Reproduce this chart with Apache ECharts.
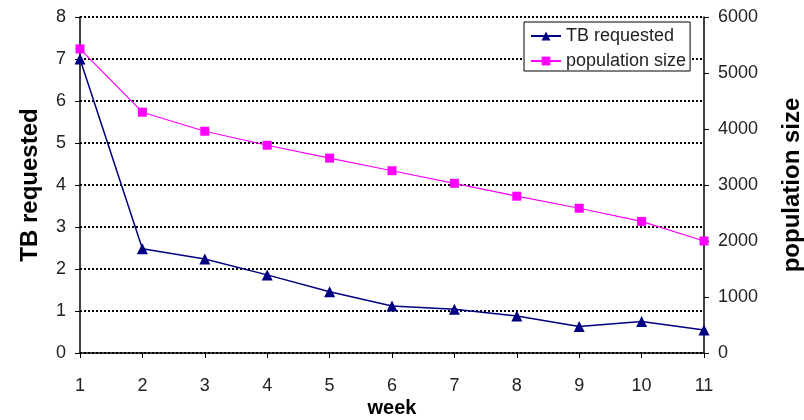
<!DOCTYPE html>
<html><head><meta charset="utf-8">
<script src="https://cdn.jsdelivr.net/npm/echarts@6/dist/echarts.min.js"></script>
<style>html,body{margin:0;padding:0;background:#fff}#c{width:804px;height:420px}</style>
</head><body><div id="c"></div>
<script>
const weeks = ['1','2','3','4','5','6','7','8','9','10','11'];
const tbRequested = [7.0, 2.48, 2.24, 1.86, 1.46, 1.12, 1.04, 0.88, 0.63, 0.75, 0.55];
const populationSize = [5430, 4300, 3960, 3710, 3480, 3255, 3030, 2800, 2585, 2350, 2000];

const chart = echarts.init(document.getElementById('c'));
const font = 'Liberation Sans, Arial, sans-serif';
chart.setOption({
  animation: false,
  backgroundColor: '#fff',
  textStyle: { fontFamily: font },
  grid: { left: 80, right: 100, top: 17, bottom: 67, containLabel: false, outerBoundsMode: 'none' },
  legend: {
    orient: 'vertical', left: 524, top: 22, itemGap: 5,
    padding: [4, 4, 0, 6],
    backgroundColor: '#fff', borderColor: '#000', borderWidth: 1,
    itemWidth: 30, itemHeight: 11,
    textStyle: { fontFamily: font, fontSize: 18, lineHeight: 20, color: '#222' },
    data: ['TB requested', 'population size']
  },
  xAxis: {
    type: 'category', data: weeks, boundaryGap: false,
    name: 'week', nameLocation: 'middle', nameGap: 45, nameMoveOverlap: false,
    nameTextStyle: { fontFamily: font, fontSize: 20, fontWeight: 'bold', color: '#000', lineHeight: 20 },
    axisLine: { lineStyle: { color: '#000', width: 1.5 } },
    axisTick: { show: true, alignWithLabel: true, length: 5, lineStyle: { color: '#000' } },
    axisLabel: { fontFamily: font, fontSize: 18, color: '#222', margin: 24 },
    splitLine: { show: false }
  },
  yAxis: [
    {
      type: 'value', min: 0, max: 8, interval: 1, position: 'left',
      name: 'TB requested', nameLocation: 'middle', nameGap: 38, nameRotate: 90, nameMoveOverlap: false,
      nameTextStyle: { fontFamily: font, fontSize: 24, fontWeight: 'bold', color: '#000' },
      axisLine: { show: true, lineStyle: { color: '#000', width: 1.5 } },
      axisTick: { show: true, inside: false, length: 5, lineStyle: { color: '#000' } },
      axisLabel: { fontFamily: font, fontSize: 18, color: '#222', margin: 14 },
      splitLine: { show: true, lineStyle: { color: '#000', type: 'dotted', width: 2 } }
    },
    {
      type: 'value', min: 0, max: 6000, interval: 1000, position: 'right',
      name: 'population size', nameLocation: 'middle', nameGap: 76, nameRotate: 90, nameMoveOverlap: false,
      nameTextStyle: { fontFamily: font, fontSize: 24, fontWeight: 'bold', color: '#000' },
      axisLine: { show: true, lineStyle: { color: '#000', width: 1.5 } },
      axisTick: { show: true, length: 5, lineStyle: { color: '#000' } },
      axisLabel: { fontFamily: font, fontSize: 18, color: '#222', margin: 14, formatter: v => String(v) },
      splitLine: { show: false }
    }
  ],
  series: [
    {
      name: 'TB requested', type: 'line', yAxisIndex: 0, data: tbRequested,
      symbol: 'triangle', symbolSize: 11,
      itemStyle: { color: '#000080' }, lineStyle: { color: '#000080', width: 1.5 }
    },
    {
      name: 'population size', type: 'line', yAxisIndex: 1, data: populationSize,
      symbol: 'rect', symbolSize: 9,
      itemStyle: { color: '#ff00ff' }, lineStyle: { color: '#ff00ff', width: 1.2 }
    }
  ]
});
</script></body></html>
